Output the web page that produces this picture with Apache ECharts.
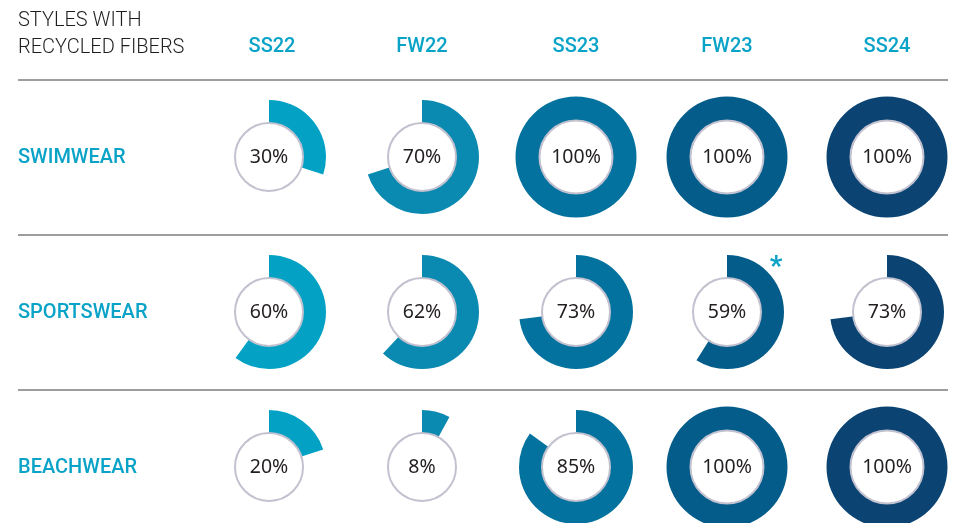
<!DOCTYPE html>
<html>
  <head>
    <meta charset="UTF-8" />
    <title>Styles with recycled fibers</title>
    <script src="https://cdn.jsdelivr.net/npm/echarts@6/dist/echarts.min.js"></script>
    <style>
      html, body { margin: 0; padding: 0; background: #fff; }
    </style>
  </head>
  <body>
    <div id="fibersChart" style="width: 955px; height: 523px"></div>
  </body>
  <script>
    // data
    const seasons = ["SS22", "FW22", "SS23", "FW23", "SS24"];
    const categories = ["SWIMWEAR", "SPORTSWEAR", "BEACHWEAR"];
    const swimwear = [30, 70, 100, 100, 100];
    const sportswear = [60, 62, 73, 59, 73];
    const beachwear = [20, 8, 85, 100, 100];
    const values = [swimwear, sportswear, beachwear];

    const seasonColors = ["#03a2c5", "#0a89b1", "#04729e", "#035c8a", "#0b4472"];
    const teal = "#0aa3c8";

    const colX = [269, 422, 576, 727, 887];
    const rowY = [157, 312, 467];

    let myChart = echarts.init(document.getElementById("fibersChart"));

    let series = [];
    values.forEach((row, r) => {
      row.forEach((v, c) => {
        let full = v >= 100;
        let outer = full ? 60.5 : 57;
        let white = full ? 36.5 : 34;
        // ring
        series.push({
          type: "pie",
          silent: true,
          animation: false,
          center: [colX[c], rowY[r]],
          radius: [white - 3, outer],
          startAngle: 90,
          clockwise: true,
          label: { show: false },
          labelLine: { show: false },
          data: [
            { value: v, itemStyle: { color: seasonColors[c] } },
            { value: 100 - v, itemStyle: { color: "rgba(0,0,0,0)" } },
          ],
        });
        // white centre with the value
        series.push({
          type: "pie",
          silent: true,
          animation: false,
          center: [colX[c], rowY[r]],
          radius: [0, white],
          label: {
            show: true,
            position: "center",
            formatter: v + "%",
            fontFamily: "Noto Sans",
            fontSize: 19.5,
            color: "#231f20",
          },
          labelLine: { show: false },
          itemStyle: { color: "#fff", borderColor: "#c2c1cf", borderWidth: 2 },
          data: [{ value: 1 }],
        });
      });
    });

    let graphic = [
      {
        type: "text",
        left: 18,
        top: 7,
        style: {
          text: "STYLES WITH\nRECYCLED FIBERS",
          font: "300 20px Roboto",
          lineHeight: 27,
          fill: "#1e1e1e",
        },
      },
    ];
    seasons.forEach((s, i) => {
      graphic.push({
        type: "text",
        x: colX[i] + (i == 0 ? 3 : 0),
        y: 47,
        style: {
          text: s,
          font: "500 20px Roboto",
          fill: teal,
          textAlign: "center",
          textVerticalAlign: "middle",
        },
      });
    });
    categories.forEach((cat, i) => {
      graphic.push({
        type: "text",
        x: 18,
        y: rowY[i] + 1,
        style: {
          text: cat,
          font: "500 20px Roboto",
          fill: teal,
          textVerticalAlign: "middle",
        },
      });
    });
    [80, 235, 390].forEach((y) => {
      graphic.push({
        type: "line",
        shape: { x1: 18, y1: y, x2: 948, y2: y },
        style: { stroke: "#7d7d7d", lineWidth: 1.5 },
      });
    });
    graphic.push({
      type: "text",
      x: 776,
      y: 268,
      style: {
        text: "*",
        font: "bold 28px Roboto",
        fill: teal,
        textAlign: "center",
        textVerticalAlign: "middle",
      },
    });

    myChart.setOption({
      animation: false,
      series: series,
      graphic: graphic,
    });
  </script>
</html>
